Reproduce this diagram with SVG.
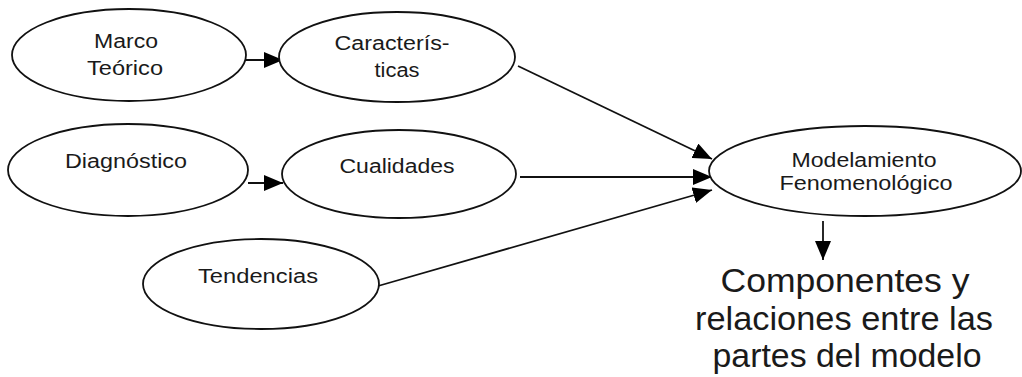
<svg xmlns="http://www.w3.org/2000/svg" width="1022" height="377" viewBox="0 0 1022 377">
<style>
.node ellipse{fill:#fff;stroke:#111;stroke-width:1.8}
.lbl{font-family:"Liberation Sans",Arial,sans-serif;font-size:20px;fill:#1a1a1a;text-anchor:middle}
.big{font-family:"Liberation Sans",Arial,sans-serif;font-size:34px;fill:#1a1a1a;text-anchor:middle}
.conn{stroke:#111;stroke-width:1.8;fill:none;marker-end:url(#ah)}
</style>
<defs>
<marker id="ah" markerUnits="userSpaceOnUse" markerWidth="20" markerHeight="16" refX="19" refY="8" orient="auto">
<path d="M0,0 L19,8 L0,16 z" fill="#000"/>
</marker>
</defs>
<rect width="1022" height="377" fill="#fff"/>
<g id="connectors">
<line class="conn" x1="246" y1="60" x2="283" y2="60"/>
<line class="conn" x1="248" y1="183" x2="283" y2="183"/>
<line class="conn" x1="518" y1="66" x2="712" y2="159"/>
<line class="conn" x1="520" y1="177" x2="712" y2="177"/>
<line class="conn" x1="378" y1="286" x2="712" y2="190"/>
<line class="conn" x1="823" y1="221" x2="823" y2="260"/>
</g>
<g id="marco" class="node">
<ellipse cx="129" cy="55" rx="117" ry="46"/>
<text class="lbl" x="126" y="48" textLength="64" lengthAdjust="spacingAndGlyphs">Marco</text>
<text class="lbl" x="125" y="75" textLength="76" lengthAdjust="spacingAndGlyphs">Teórico</text>
</g>
<g id="caracteristicas" class="node">
<ellipse cx="397" cy="57" rx="118" ry="45"/>
<text class="lbl" x="392" y="50" textLength="115" lengthAdjust="spacingAndGlyphs">Caracterís-</text>
<text class="lbl" x="397" y="77" textLength="45" lengthAdjust="spacingAndGlyphs">ticas</text>
</g>
<g id="diagnostico" class="node">
<ellipse cx="128" cy="170" rx="120" ry="46"/>
<text class="lbl" x="126" y="168" textLength="122" lengthAdjust="spacingAndGlyphs">Diagnóstico</text>
</g>
<g id="cualidades" class="node">
<ellipse cx="399" cy="174" rx="117" ry="44"/>
<text class="lbl" x="397" y="173" textLength="115" lengthAdjust="spacingAndGlyphs">Cualidades</text>
</g>
<g id="tendencias" class="node">
<ellipse cx="261" cy="284" rx="118" ry="45"/>
<text class="lbl" x="258" y="283" textLength="120" lengthAdjust="spacingAndGlyphs">Tendencias</text>
</g>
<g id="modelamiento" class="node">
<ellipse cx="865" cy="171" rx="156" ry="45"/>
<text class="lbl" x="864" y="167" textLength="145" lengthAdjust="spacingAndGlyphs">Modelamiento</text>
<text class="lbl" x="866" y="190" textLength="173" lengthAdjust="spacingAndGlyphs">Fenomenológico</text>
</g>
<g id="resultado">
<text class="big" x="845" y="292" textLength="249" lengthAdjust="spacingAndGlyphs">Componentes y</text>
<text class="big" x="844" y="330" textLength="298" lengthAdjust="spacingAndGlyphs">relaciones entre las</text>
<text class="big" x="847" y="367" textLength="269" lengthAdjust="spacingAndGlyphs">partes del modelo</text>
</g>
</svg>
